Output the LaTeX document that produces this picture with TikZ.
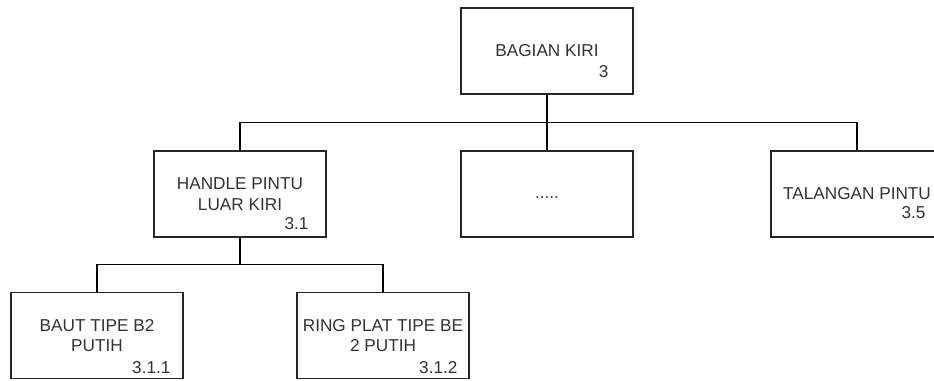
\documentclass[tikz,border=0pt]{standalone}
\usepackage{fontspec}
\setmainfont{Liberation Sans}
\usetikzlibrary{calc}

\begin{document}
\begin{tikzpicture}[x=0.75pt,y=-0.75pt,
    every node/.style={font=\fontsize{12.9}{15.6}\selectfont, text=black!80},
    blok/.style={draw=black!85, line width=1.1pt, fill=white, inner sep=0pt,
        minimum width=129pt, minimum height=64.5pt, align=center},
    nomor/.style={inner sep=0pt, anchor=east},
    cabang/.style={to path={(\tikztostart) |- ($(\tikztostart)!.5!(\tikztotarget)$) -| (\tikztotarget)}}]
    \useasboundingbox (0,0) rectangle (934,381);
    \node[blok] (kiri) at (547,51) {BAGIAN KIRI};
    \node[nomor] (kiri-no) at ([shift={(-25,21)}]kiri.east) {3};
    \node[blok] (handle) at (240,194) {HANDLE PINTU\\LUAR KIRI};
    \node[nomor] (handle-no) at ([shift={(-18,30)}]handle.east) {3.1};
    \node[blok] (lain) at (547,194) {\strut.....};
    \node[blok] (talang) at (857,194) {TALANGAN PINTU};
    \node[nomor] (talang-no) at ([shift={(-18,19)}]talang.east) {3.5};
    \node[blok] (baut) at (97,335.5) {BAUT TIPE B2\\PUTIH};
    \node[nomor] (baut-no) at ([shift={(-13,32)}]baut.east) {3.1.1};
    \node[blok] (ring) at (383,335.5) {RING PLAT TIPE BE\\2 PUTIH};
    \node[nomor] (ring-no) at ([shift={(-12,32)}]ring.east) {3.1.2};
    \draw[line width=1.1pt] (kiri.south) to[cabang] (handle.north);
    \draw[line width=1.1pt] (kiri.south) to[cabang] (lain.north);
    \draw[line width=1.1pt] (kiri.south) to[cabang] (talang.north);
    \draw[line width=1.1pt] (handle.south) to[cabang] (baut.north);
    \draw[line width=1.1pt] (handle.south) to[cabang] (ring.north);
\end{tikzpicture}
\end{document}
